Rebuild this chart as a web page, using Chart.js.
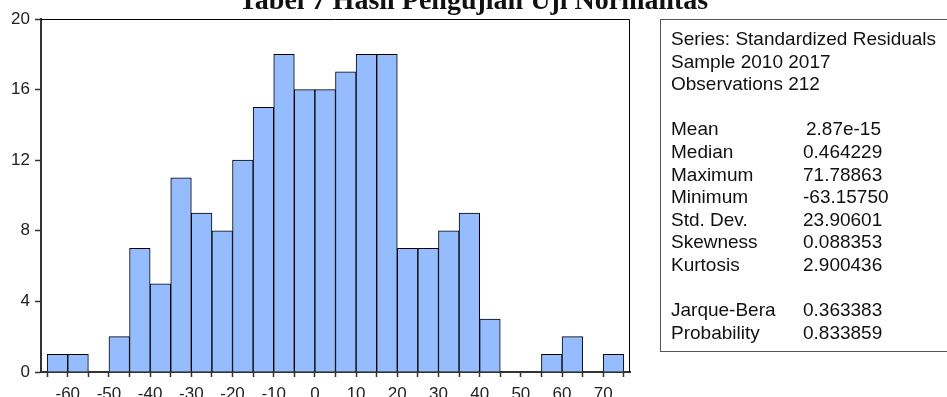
<!DOCTYPE html>
<html>
<head>
<meta charset="utf-8">
<script src="https://cdn.jsdelivr.net/npm/chart.js@4.4.0/dist/chart.umd.min.js"></script>
<style>
  body { margin: 0; background: #fff; width: 947px; height: 397px; overflow: hidden; position: relative; }
  #wrap { position: absolute; left: 0; top: 0; width: 947px; height: 397px; }
  #judul { position: absolute; left: 0; top: -14px; width: 947px; text-align: center;
    font: bold 28px "Liberation Serif", "Times New Roman", serif; line-height: 28px; color: #111; white-space: nowrap; }
  #statistik { position: absolute; left: 660px; top: 19px; width: 320px; height: 333px; box-sizing: border-box;
    border: 1px solid #555; border-right: none; padding: 8px 0 0 10px;
    font: 19px "Liberation Sans", Arial, sans-serif; line-height: 22.6px; color: #111; }
  #statistik .baris { height: 22.6px; white-space: nowrap; }
  #statistik .lbl { display: inline-block; width: 132px; }
</style>
</head>
<body>
<div id="wrap"><canvas id="grafik"></canvas></div>
<div id="judul">Tabel 7 Hasil Pengujian Uji Normalitas</div>
<div id="statistik"></div>

<script>
// data histogram (batas kiri tiap kelas, lebar 5)
var batasKiri = [-65, -60, -55, -50, -45, -40, -35, -30, -25, -20, -15, -10, -5, 0,
                 5, 10, 15, 20, 25, 30, 35, 40, 45, 50, 55, 60, 65, 70];
var frekuensi = [1, 1, 0, 2, 7, 5, 11, 9, 8, 12, 15, 18, 16, 16,
                 17, 18, 18, 7, 7, 8, 9, 3, 0, 0, 1, 2, 0, 1];
var lebarKelas = 5;

var tickX = [-65, -60, -55, -50, -45, -40, -35, -30, -25, -20, -15, -10, -5, 0,
             5, 10, 15, 20, 25, 30, 35, 40, 45, 50, 55, 60, 65, 70, 75];
var labelX = [-60, -50, -40, -30, -20, -10, 0, 10, 20, 30, 40, 50, 60, 70];
var tickY = [0, 4, 8, 12, 16, 20];

var namaStat = ['Series: Standardized Residuals', 'Sample 2010 2017', 'Observations 212', '',
  'Mean', 'Median', 'Maximum', 'Minimum', 'Std. Dev.', 'Skewness', 'Kurtosis', '',
  'Jarque-Bera', 'Probability'];
var nilaiStat = ['', '', '', '', '2.87e-15', '0.464229', '71.78863', '-63.15750', '23.90601',
  '0.088353', '2.900436', '', '0.363383', '0.833859'];

// kotak statistik
var isi = '';
for (var i = 0; i < namaStat.length; i++) {
  if (nilaiStat[i] == '') {
    isi += `<div class="baris">${namaStat[i]}</div>`;
  } else {
    var geser = nilaiStat[i] == '2.87e-15' ? ' style="padding-left:3px"' : '';
    isi += `<div class="baris"><span class="lbl">${namaStat[i]}</span><span${geser}>${nilaiStat[i]}</span></div>`;
  }
}
document.getElementById('statistik').innerHTML = isi;

var dataBar = [];
for (var i = 0; i < batasKiri.length; i++) {
  dataBar.push({ x: batasKiri[i] + lebarKelas / 2, y: frekuensi[i] });
}

// garis atas dan kanan kotak plot
const bingkai = {
  id: 'bingkai',
  afterDraw(chart) {
    const a = chart.chartArea;
    const ctx = chart.ctx;
    ctx.save();
    ctx.strokeStyle = '#000';
    ctx.lineWidth = 1;
    ctx.beginPath();
    ctx.moveTo(a.left, a.top + 0.5);
    ctx.lineTo(a.right - 0.5, a.top + 0.5);
    ctx.lineTo(a.right - 0.5, a.bottom);
    ctx.stroke();
    ctx.restore();
  }
};

const grafik = document.getElementById('grafik');

new Chart(grafik, {
  type: 'bar',
  data: {
    datasets: [{
      data: dataBar,
      backgroundColor: '#94bcff',
      borderColor: '#000',
      borderWidth: 1,
      barPercentage: 1,
      categoryPercentage: 1
    }]
  },
  options: {
    responsive: true,
    maintainAspectRatio: false,
    animation: false,
    layout: { padding: { left: 0, top: 19, right: 317, bottom: 0 } },
    plugins: { legend: { display: false }, tooltip: { enabled: false } },
    scales: {
      x: {
        type: 'linear',
        min: -66.5,
        max: 76.5,
        offset: false,
        afterBuildTicks: function (s) { s.ticks = tickX.map(function (v) { return { value: v }; }); },
        afterFit: function (s) { s.height = 25; },
        border: { color: '#333', width: 2 },
        grid: { offset: false, drawOnChartArea: false, tickLength: 5, tickColor: '#333', tickWidth: 1.5 },
        ticks: {
          autoSkip: false,
          maxRotation: 0,
          padding: 7,
          color: '#222',
          font: { family: 'Liberation Sans, Arial, sans-serif', size: 17 },
          callback: function (v) { return labelX.indexOf(v) >= 0 ? String(v) : ''; }
        }
      },
      y: {
        min: 0,
        max: 20,
        afterBuildTicks: function (s) { s.ticks = tickY.map(function (v) { return { value: v }; }); },
        afterFit: function (s) { s.width = 41; },
        border: { color: '#333', width: 2 },
        grid: { drawOnChartArea: false, tickLength: 6, tickColor: '#333', tickWidth: 1.5 },
        ticks: {
          padding: 5,
          color: '#222',
          font: { family: 'Liberation Sans, Arial, sans-serif', size: 17 }
        }
      }
    }
  },
  plugins: [bingkai]
});
</script>
</body>
</html>
